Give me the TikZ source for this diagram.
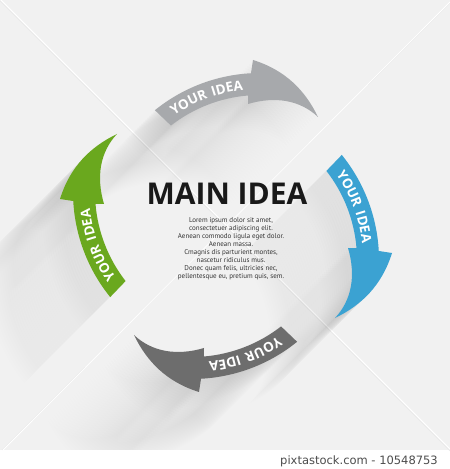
\documentclass[tikz,border=0pt]{standalone}
\usepackage{fontspec}
\setmainfont{Open Sans}
\newfontfamily\ptsans{PT Sans}
\newfontfamily\footfont{DejaVu Sans}
\newfontfamily\labelfam{Open Sans}[LetterSpace=12]
\usetikzlibrary{decorations.text}
\definecolor{bg}{HTML}{F1F1F1}
\definecolor{lg}{HTML}{A7A9AC}
\definecolor{bl}{HTML}{3BA2D2}
\definecolor{dg}{HTML}{6D6D6D}
\definecolor{gr}{HTML}{6AA81E}
\definecolor{txt}{HTML}{333333}
\definecolor{ft}{HTML}{4D4D4D}
\newcommand{\labelfont}{\labelfam\fontsize{13.5}{13.5}\selectfont\bfseries}
\newcommand{\ideashape}[2]{
\begin{scope}[shift={(226,243)},rotate=#1,shift={(34,-14)}]
\fill[#2] (129:167) arc [radius=167,start angle=129,end angle=93.1] -- (-7,180) .. controls (25,170) and (45,150) .. (58,123) .. controls (40,140) and (15,144) .. (-12,136) -- (94.7:145) arc [radius=145,start angle=94.7,end angle=127.9] -- cycle;
\end{scope}
}
\newcommand{\idealabel}[1]{
\begin{scope}[shift={(226,243)},rotate=#1,shift={(34,-14)}]
\path[decorate,decoration={text along path,text align=center,text color=white,text={|\labelfont|YOUR IDEA}}] (128:151) arc [radius=151,start angle=128,end angle=93];
\end{scope}
}
\newcommand{\ideashadow}[1]{
\foreach \k in {2,4,...,110}{
\pgfmathsetmacro{\op}{0.008*(1-\k/115)}
\begin{scope}[shift={(-\k,-\k)}]
\ideashape{#1}{black,opacity=\op}
\end{scope}
}
}

\begin{document}
\begin{tikzpicture}[x=1pt,y=1pt]
\useasboundingbox (0,0) rectangle (450,469);
\fill[white] (0,0) rectangle (450,469);
\fill[bg] (0,19) rectangle (450,469);
\draw[black!9,line width=0.5] (0,468) -- (450,18);
\draw[white,line width=0.8] (1,469) -- (450,20);
\draw[black!9,line width=0.5] (450,466) -- (2,19);
\draw[white,line width=0.8] (450,467) -- (3,19);
\begin{scope}
\clip (0,19) rectangle (450,469);
\ideashadow{0}
\ideashadow{-90}
\ideashadow{-180}
\ideashadow{90}
\end{scope}
\ideashape{0}{lg}
\ideashape{-90}{bl}
\ideashape{-180}{dg}
\ideashape{90}{gr}
\idealabel{0}
\idealabel{-90}
\idealabel{-180}
\idealabel{90}

\node (title) at (227,275) [inner sep=0,text=black!90] {\fontsize{30}{30}\selectfont\bfseries MAIN IDEA};
\node (body) at (231,220) [inner sep=0,align=center,text=txt,font=\ptsans\fontsize{7}{8}\selectfont] {Lorem ipsum dolor sit amet,\\consectetuer adipiscing elit.\\Aenean commodo ligula eget dolor.\\Aenean massa.\\Cmagnis dis parturient montes,\\nascetur ridiculus mus.\\Donec quam felis, ultricies nec,\\pellentesque eu, pretium quis, sem.};
\node (credit) at (438,5) [anchor=base east,inner sep=0,text=ft,font=\footfont\fontsize{11.5}{12}\selectfont] {pixtastock.com - 10548753};
\end{tikzpicture}
\end{document}
